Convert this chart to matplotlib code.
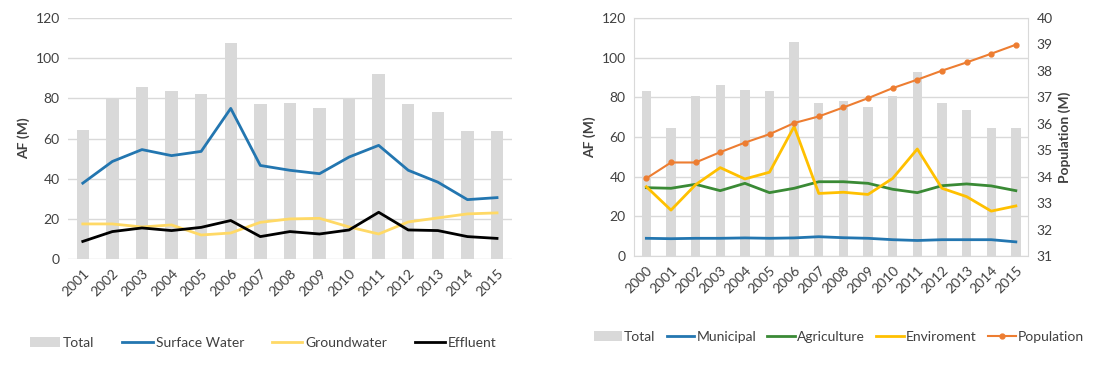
import matplotlib.pyplot as plt
import numpy as np

plt.rcParams['font.family'] = ['Lato', 'DejaVu Sans']

# left chart: supply by source
years_l = ['2001', '2002', '2003', '2004', '2005', '2006', '2007', '2008',
           '2009', '2010', '2011', '2012', '2013', '2014', '2015']
total_l = [64.5, 80, 85.8, 83.6, 82, 107.5, 77, 77.5, 75, 80, 92, 77, 73.3, 64, 64]
surface = [37.8, 48.6, 54.5, 51.5, 53.6, 75, 46.6, 44.2, 42.5, 50.8, 56.6, 44.2, 38.3, 29.6, 30.6]
ground = [17.5, 17.5, 16, 17, 12, 13, 18.3, 20, 20.3, 16, 12.5, 18.5, 20.5, 22.5, 23]
effluent = [8.8, 13.7, 15.5, 14.2, 15.8, 19.2, 11.2, 13.7, 12.5, 14.5, 23.3, 14.5, 14.2, 11.2, 10.3]

# right chart: use by sector + population
years_r = ['2000'] + years_l
total_r = [83, 64.8, 80.5, 86.4, 83.8, 83, 107.7, 77.1, 78, 75.4, 80.5, 93, 77, 73.7, 64.8, 64.8]
municipal = [9, 8.8, 9, 9, 9.2, 9, 9.2, 9.8, 9.3, 9, 8.3, 7.9, 8.3, 8.3, 8.3, 7.2]
agriculture = [34.5, 34.2, 36.2, 33, 36.7, 32, 34.2, 37.5, 37.5, 36.7, 33.7, 32, 35.5, 36.4, 35.4, 33]
enviroment = [35, 23.2, 36, 44.6, 38.9, 42.3, 65.3, 31.6, 32.2, 31.1, 39.2, 54, 34.2, 30, 22.7, 25.3]
population = [33.94, 34.54, 34.54, 34.93, 35.29, 35.61, 36.03, 36.28, 36.62, 36.97,
              37.35, 37.67, 38.01, 38.32, 38.65, 38.99]

GRAY = '#d9d9d9'
GRID = '#d9d9d9'
TXT = '#404040'

fig = plt.figure(figsize=(11.04, 3.67), dpi=100)

def style(ax, n):
    ax.set_ylim(0, 120)
    ax.set_yticks(range(0, 121, 20))
    ax.set_xlim(-0.5, n - 0.5)
    ax.grid(axis='y', color=GRID, linewidth=1)
    ax.set_axisbelow(True)
    ax.tick_params(length=0, labelsize=10, colors=TXT, pad=6)
    ax.set_ylabel('AF (M)', fontsize=10, fontweight='bold', color=TXT)

# ---- left
ax1 = fig.add_axes([0.0616, 0.294, 0.402, 0.657])
x1 = np.arange(len(years_l))
b1 = ax1.bar(x1, total_l, width=0.42, color=GRAY)
s1, = ax1.plot(x1, surface, color='#2376b0', lw=2)
s2, = ax1.plot(x1, ground, color='#ffd966', lw=2)
s3, = ax1.plot(x1, effluent, color='black', lw=2)
style(ax1, len(years_l))
for s in ax1.spines.values():
    s.set_visible(False)
ax1.set_xticks(x1)
ax1.set_xticklabels(years_l, rotation=45, ha='right', rotation_mode='anchor')
ax1.legend([b1, s1, s2, s3], ['Total', 'Surface Water', 'Groundwater', 'Effluent'],
           loc='upper center', bbox_to_anchor=(0.44, -0.27), ncol=4, frameon=False,
           fontsize=10, handlelength=2.2, handletextpad=0.2, columnspacing=2.0,
           labelcolor=TXT)

# ---- right
ax2 = fig.add_axes([0.5743, 0.302, 0.357, 0.649])
x2 = np.arange(len(years_r))
b = ax2.bar(x2, total_r, width=0.38, color=GRAY)
l1, = ax2.plot(x2, municipal, color='#2376b0', lw=2)
l2, = ax2.plot(x2, agriculture, color='#3a8a35', lw=2)
l3, = ax2.plot(x2, enviroment, color='#ffc000', lw=2)
style(ax2, len(years_r))
for s in ax2.spines.values():
    s.set_color(GRID)
ax2.set_xticks(x2)
ax2.set_xticklabels(years_r, rotation=45, ha='right', rotation_mode='anchor')

ax3 = ax2.twinx()
l4, = ax3.plot(x2, population, color='#ed7d31', lw=1.5, marker='o', markersize=3.5)
ax3.set_ylim(31, 40)
ax3.set_yticks(range(31, 41))
ax3.tick_params(length=0, labelsize=10, colors=TXT, pad=6)
ax3.set_ylabel('Population (M)', fontsize=10, fontweight='bold', color=TXT)
for s in ax3.spines.values():
    s.set_visible(False)

ax2.legend([b, l1, l2, l3, l4], ['Total', 'Municipal', 'Agriculture', 'Enviroment', 'Population'],
           loc='upper center', bbox_to_anchor=(0.52, -0.26), ncol=5, frameon=False,
           fontsize=10, handlelength=2.0, handletextpad=0.15, columnspacing=0.8,
           labelcolor=TXT)

fig.savefig('out.png', dpi=100)
